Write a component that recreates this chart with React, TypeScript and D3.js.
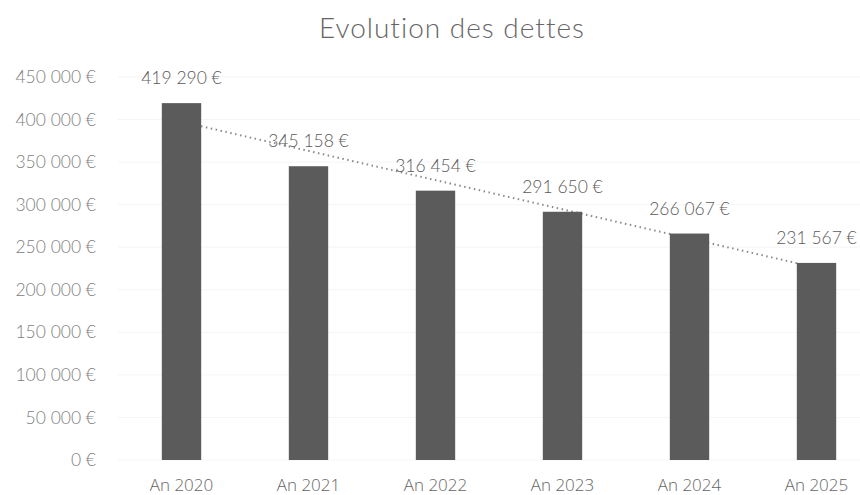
import React from "react";
import * as d3 from "d3";

const categories = ["An 2020", "An 2021", "An 2022", "An 2023", "An 2024", "An 2025"];
const values = [419290, 345158, 316454, 291650, 266067, 231567];
const yTicks = [0, 50000, 100000, 150000, 200000, 250000, 300000, 350000, 400000, 450000];
const title = "Evolution des dettes";

const W = 860;
const H = 495;

const locale = d3.formatLocale({
  decimal: ",",
  thousands: "\u00a0",
  grouping: [3],
  currency: ["", "\u00a0€"],
});
const fmt = locale.format("$,.0f");

export default function App() {
  const x = d3.scaleBand<string>().domain(categories).range([118, 880]).paddingInner(0.69).paddingOuter(0.345);
  const y = d3.scaleLinear().domain([0, 450000]).range([460, 77]);

  // linear trendline (least squares) derived from the series
  const n = values.length;
  const xs = values.map((_, i) => i);
  const mx = d3.mean(xs) as number;
  const my = d3.mean(values) as number;
  const slope =
    d3.sum(xs.map((xi, i) => (xi - mx) * (values[i] - my))) / d3.sum(xs.map((xi) => (xi - mx) ** 2));
  const intercept = my - slope * mx;
  const cx = (i: number) => (x(categories[i]) as number) + x.bandwidth() / 2;
  const trend = d3
    .line<number>()
    .x((i) => cx(i))
    .y((i) => y(intercept + slope * i))([0, n - 1]);

  return (
    <svg width={W} height={H} style={{ position: "absolute", left: 0, top: 0, background: "#fff" }}>
      <text
        x={452}
        y={38}
        textAnchor="middle"
        fontFamily="Lato"
        fontWeight={300}
        fontSize={28}
        letterSpacing={1}
        fill="#666"
      >
        {title}
      </text>
      {yTicks.map((t) => (
        <g key={t}>
          <line x1={118} x2={860} y1={y(t)} y2={y(t)} stroke="#f5f5f5" strokeWidth={1} />
          <text x={96} y={y(t)} dy="0.35em" textAnchor="end" fontFamily="Lato" fontWeight={300} fontSize={17.5} fill="#808080">
            {fmt(t)}
          </text>
        </g>
      ))}
      <path d={trend as string} fill="none" stroke="#8a8a8a" strokeWidth={2} strokeDasharray="1.5,3.5" />
      {values.map((v, i) => (
        <rect
          key={categories[i]}
          x={x(categories[i])}
          y={y(v)}
          width={x.bandwidth()}
          height={y(0) - y(v)}
          fill="#5b5b5b"
        />
      ))}
      {values.map((v, i) => (
        <text
          key={"l" + i}
          x={cx(i)}
          y={y(v) - 25}
          dy="0.35em"
          textAnchor="middle"
          fontFamily="Lato"
          fontWeight={300}
          fontSize={17.5}
          fill="#5a5a5a"
        >
          {fmt(v)}
        </text>
      ))}
      {categories.map((c, i) => (
        <text key={c} x={cx(i)} y={491} textAnchor="middle" fontFamily="Open Sans" fontWeight={300} fontSize={17} fill="#666">
          {c}
        </text>
      ))}
    </svg>
  );
}
